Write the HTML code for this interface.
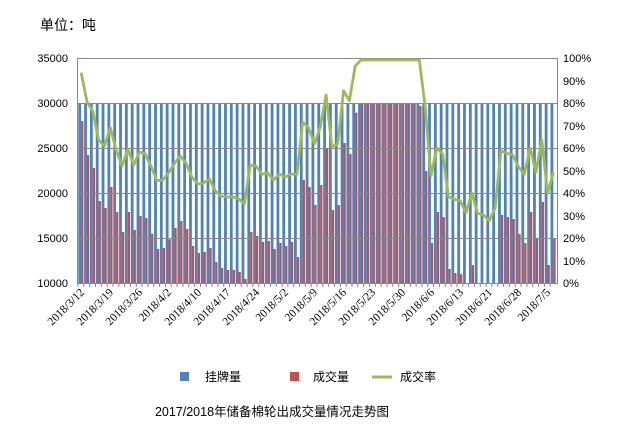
<!DOCTYPE html>
<html><head><meta charset="utf-8"><style>
body{margin:0;background:#fff;width:624px;height:439px;overflow:hidden;font-family:"Liberation Sans","Noto Sans CJK SC",sans-serif}
svg text{font-family:"Liberation Sans","Noto Sans CJK SC",sans-serif}
</style></head><body>
<svg id="s" width="624" height="439" xmlns="http://www.w3.org/2000/svg">
<text x="40" y="30" font-size="14" fill="#000">单位：吨</text>
<g id="bars"></g>
<g stroke="#888" stroke-width="1">
<line x1="77" y1="58.5" x2="557" y2="58.5"/><line x1="77" y1="103.5" x2="557" y2="103.5"/>
<line x1="77" y1="148.5" x2="557" y2="148.5"/><line x1="77" y1="193.5" x2="557" y2="193.5"/>
<line x1="77" y1="238.5" x2="557" y2="238.5"/><line x1="77" y1="283.5" x2="557" y2="283.5"/>
<line x1="77.5" y1="58" x2="77.5" y2="284"/><line x1="557.5" y1="58" x2="557.5" y2="284"/>
</g>
<g font-size="11" fill="#000" text-anchor="end">
<text x="68" y="62">35000</text><text x="68" y="107">30000</text><text x="68" y="152">25000</text>
<text x="68" y="197">20000</text><text x="68" y="242">15000</text><text x="68" y="287">10000</text>
</g>
<g font-size="11" fill="#000">
<text x="563" y="62">100%</text><text x="563" y="85">90%</text><text x="563" y="107">80%</text>
<text x="563" y="130">70%</text><text x="563" y="152">60%</text><text x="563" y="175">50%</text>
<text x="563" y="197">40%</text><text x="563" y="220">30%</text><text x="563" y="242">20%</text>
<text x="563" y="265">10%</text><text x="563" y="287">0%</text>
</g>
<g id="xl" font-size="11.5" fill="#000" text-anchor="end" style="font-family:'Liberation Serif','Noto Serif CJK SC',serif">
<text transform="translate(85,293) rotate(-45)" style="font-family:'Liberation Serif',serif">2018/3/12</text>
<text transform="translate(114,293) rotate(-45)" style="font-family:'Liberation Serif',serif">2018/3/19</text>
<text transform="translate(143,293) rotate(-45)" style="font-family:'Liberation Serif',serif">2018/3/26</text>
<text transform="translate(172,293) rotate(-45)" style="font-family:'Liberation Serif',serif">2018/4/2</text>
<text transform="translate(202,293) rotate(-45)" style="font-family:'Liberation Serif',serif">2018/4/10</text>
<text transform="translate(231,293) rotate(-45)" style="font-family:'Liberation Serif',serif">2018/4/17</text>
<text transform="translate(260,293) rotate(-45)" style="font-family:'Liberation Serif',serif">2018/4/24</text>
<text transform="translate(289,293) rotate(-45)" style="font-family:'Liberation Serif',serif">2018/5/2</text>
<text transform="translate(318,293) rotate(-45)" style="font-family:'Liberation Serif',serif">2018/5/9</text>
<text transform="translate(347,293) rotate(-45)" style="font-family:'Liberation Serif',serif">2018/5/16</text>
<text transform="translate(376,293) rotate(-45)" style="font-family:'Liberation Serif',serif">2018/5/23</text>
<text transform="translate(406,293) rotate(-45)" style="font-family:'Liberation Serif',serif">2018/5/30</text>
<text transform="translate(435,293) rotate(-45)" style="font-family:'Liberation Serif',serif">2018/6/6</text>
<text transform="translate(464,293) rotate(-45)" style="font-family:'Liberation Serif',serif">2018/6/13</text>
<text transform="translate(493,293) rotate(-45)" style="font-family:'Liberation Serif',serif">2018/6/21</text>
<text transform="translate(522,293) rotate(-45)" style="font-family:'Liberation Serif',serif">2018/6/28</text>
<text transform="translate(551,293) rotate(-45)" style="font-family:'Liberation Serif',serif">2018/7/5</text>
</g>
<rect x="180" y="372" width="9" height="9" fill="#4f81bd"/>
<text x="205" y="381" font-size="12">挂牌量</text>
<rect x="290" y="372" width="9" height="9" fill="#c0504d"/>
<text x="313" y="381" font-size="12">成交量</text>
<line x1="372" y1="377" x2="392" y2="377" stroke="#9bbb59" stroke-width="3"/>
<text x="400" y="381" font-size="12">成交率</text>
<text x="272" y="416" font-size="12.5" text-anchor="middle">2017/2018年储备棉轮出成交量情况走势图</text>
</svg>
<script>
var r1=[213,315,354,453,474,411,486,546,486,540,498,504,551,597,594,568,534,513,537,588,609,606,594,636,654,660,660,666,687,546,558,576,573,597,579,588,576,621,390,411,465];
var r2=[405,294,480,465,279,312,188,162,162,162,162,162,162,162,162,162,162,168,363,579,486,501,657,669,672,-1,645,-1,-1,-1,-1,495,501,507,552,579,486,567,456,645,567];
var g1=[68,155,185,270,288,233,300,348,298,345,306,312,350,392,390,368,340,318,340,382,402,399,387,423,438,441,441,446,462,345,348,373,369,390,372,381,372,373,216,234,282];
var g2=[232,135,290,282,122,152,48,30,30,30,30,30,30,30,30,30,30,30,170,378,294,312,440,448,452,488,428,490,495,512,475,302,310,314,350,373,294,366,270,430,366];
var ns="http://www.w3.org/2000/svg",b=document.getElementById('bars'),s=document.getElementById('s');
var red=r1.concat(r2),gr=g1.concat(g2),pts=[];
for(var i=0;i<82;i++){
 var x=78.3+i*5.83;
 var e=document.createElementNS(ns,'rect');e.setAttribute('x',x);e.setAttribute('y',103);e.setAttribute('width',2.8);e.setAttribute('height',180);e.setAttribute('fill','#4f81bd');b.appendChild(e);
 if(red[i]>0){var y=50+red[i]/3;e=document.createElementNS(ns,'rect');e.setAttribute('x',x+2.8);e.setAttribute('y',y);e.setAttribute('width',2.3);e.setAttribute('height',283-y);e.setAttribute('fill','#c0504d');b.appendChild(e);}
 pts.push((x+2.9).toFixed(1)+','+(50+gr[i]/3).toFixed(1));
 var t=document.createElementNS(ns,'line');t.setAttribute('x1',x-0.3);t.setAttribute('x2',x-0.3);t.setAttribute('y1',283);t.setAttribute('y2',287);t.setAttribute('stroke','#888');b.appendChild(t);
}
var p=document.createElementNS(ns,'polyline');p.setAttribute('points',pts.join(' '));p.setAttribute('fill','none');p.setAttribute('stroke','#9bbb59');p.setAttribute('stroke-width','2.8');p.setAttribute('stroke-linejoin','round');s.appendChild(p);
</script>
</body></html>
